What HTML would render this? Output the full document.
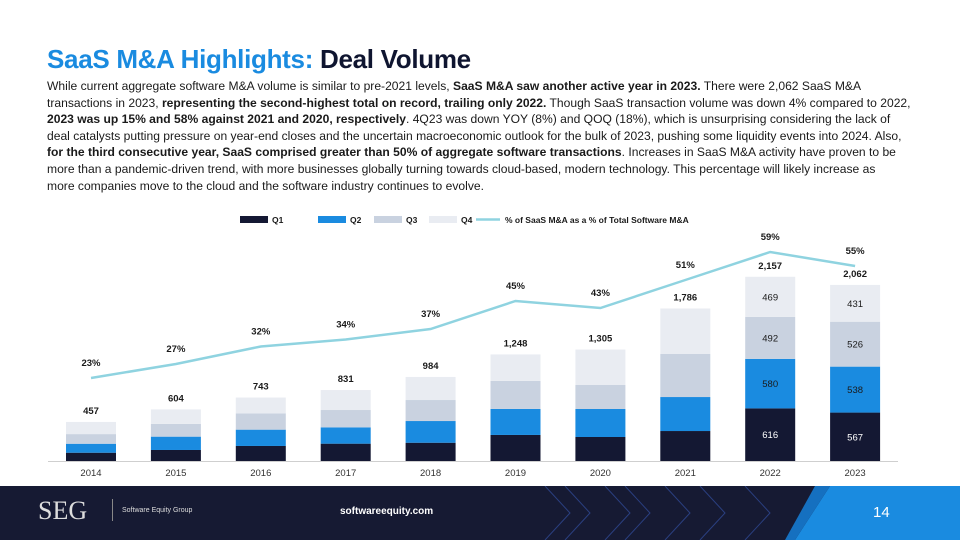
<!DOCTYPE html>
<html><head><meta charset="utf-8"><style>
body{margin:0;width:960px;height:540px;overflow:hidden;background:#fff;font-family:"Liberation Sans",Arial,sans-serif;position:relative}
#title{position:absolute;left:47px;top:44px;font-size:26px;font-weight:bold;color:#0f1530;white-space:nowrap;letter-spacing:-0.3px}
#title span{color:#1a8be0}
#body{position:absolute;left:47px;top:78px;font-size:12.1px;line-height:16.6px;color:#1a1a1a;white-space:nowrap}
#footer{position:absolute;left:0;top:486px;width:960px;height:54px;background:#161a33}
</style></head><body>
<div id="title"><span>SaaS M&amp;A Highlights:</span> Deal Volume</div>
<div id="body">
While current aggregate software M&amp;A volume is similar to pre-2021 levels, <b>SaaS M&amp;A saw another active year in 2023.</b> There were 2,062 SaaS M&amp;A<br>
transactions in 2023, <b>representing the second-highest total on record, trailing only 2022.</b> Though SaaS transaction volume was down 4% compared to 2022,<br>
<b>2023 was up 15% and 58% against 2021 and 2020, respectively</b>. 4Q23 was down YOY (8%) and QOQ (18%), which is unsurprising considering the lack of<br>
deal catalysts putting pressure on year-end closes and the uncertain macroeconomic outlook for the bulk of 2023, pushing some liquidity events into 2024. Also,<br>
<b>for the third consecutive year, SaaS comprised greater than 50% of aggregate software transactions</b>. Increases in SaaS M&amp;A activity have proven to be<br>
more than a pandemic-driven trend, with more businesses globally turning towards cloud-based, modern technology. This percentage will likely increase as<br>
more companies move to the cloud and the software industry continues to evolve.
</div>
<svg id="chart" width="960" height="540" style="position:absolute;left:0;top:0"></svg>
<div id="footer">
<svg width="960" height="54" style="position:absolute;left:0;top:0">
<g stroke="#2a3f80" stroke-width="1" fill="none">
<polyline points="545,0 570,27 545,54"/><polyline points="565,0 590,27 565,54"/>
<polyline points="605,0 630,27 605,54"/><polyline points="625,0 650,27 625,54"/>
<polyline points="665,0 690,27 665,54"/><polyline points="700,0 725,27 700,54"/>
<polyline points="745,0 770,27 745,54"/>
</g>
<polygon points="830,0 960,0 960,54 795,54" fill="#1a8be0"/>
<polygon points="815,0 830,0 795,54 785,54" fill="#1570c0"/>
</svg>
<div style="position:absolute;left:38px;top:10px;font-family:'Liberation Serif',serif;font-size:26px;color:#ddd">SEG</div>
<div style="position:absolute;left:112px;top:13px;width:1px;height:22px;background:#888"></div>
<div style="position:absolute;left:122px;top:21px;font-size:7px;color:#ddd">Software Equity Group</div>
<div style="position:absolute;left:340px;top:20px;font-size:10px;font-weight:bold;color:#fff">softwareequity.com</div>
<div style="position:absolute;left:873px;top:18px;font-size:15px;color:#fff">14</div>
</div>
<script>
const years=["2014","2015","2016","2017","2018","2019","2020","2021","2022","2023"];
const q1=[97,129,176,203,214,305,281,351,616,567];
const q2=[105,156,191,191,254,305,328,398,580,538];
const q3=[113,149,191,203,246,328,281,504,492,526];
const q4=[142,170,185,234,270,310,415,533,469,431];
const totals=[457,604,743,831,984,1248,1305,1786,2157,2062];
const pct=[23,27,32,34,37,45,43,51,59,55];
const svg=document.getElementById('chart');const NS='http://www.w3.org/2000/svg';
const base=461,scale=0.0854;
const xC=i=>91+i*84.9;
const yV=v=>base-v*scale;
const yP=p=>458.5-3.5*p;
function mk(t,a,txt){const e=document.createElementNS(NS,t);for(const k in a)e.setAttribute(k,a[k]);if(txt!=null)e.textContent=txt;svg.appendChild(e);return e;}
const cols=["#141833","#1a8be0","#c9d2e0","#e9ecf2"];
const series=[q1,q2,q3,q4];
const ax=mk('line',{x1:48,x2:898,y1:base+0.5,y2:base+0.5,stroke:'#cfcfcf','stroke-width':1});


years.forEach((y,i)=>{
  let acc=0;
  series.forEach((s,k)=>{
    const r=mk('rect',{x:xC(i)-25,y:yV(acc+s[i]),width:50,height:s[i]*scale,fill:cols[k]});
    
    
    if(i>=8){const t=mk('text',{x:xC(i),y:yV(acc+s[i]/2)+3.5,'text-anchor':'middle','font-size':9.5,fill:k==0?'#fff':'#1a1a1a'},s[i]);
      
      }
    acc+=s[i];
  });
  const tl=mk('text',{x:xC(i),y:yV(totals[i])-8,'text-anchor':'middle','font-size':9.5,'font-weight':'bold',fill:'#1a1a1a'},totals[i].toLocaleString('en-US'));
  
  
  const xl=mk('text',{x:xC(i),y:476,'text-anchor':'middle','font-size':9.5,fill:'#333'},y);
  
  
  const pl=mk('text',{x:xC(i),y:yP(pct[i])-12,'text-anchor':'middle','font-size':9.5,'font-weight':'bold',fill:'#1a1a1a'},pct[i]+'%');
  
  
});
const ln=mk('polyline',{points:pct.map((p,i)=>xC(i)+','+yP(p)).join(' '),fill:'none',stroke:'#8fd3e0','stroke-width':2.5});


const leg=[["Q1",cols[0],240],["Q2",cols[1],318],["Q3",cols[2],374],["Q4",cols[3],429]];
leg.forEach(l=>{
  const r=mk('rect',{x:l[2],y:216,width:28,height:7,fill:l[1]});
  
  
  const t=mk('text',{x:l[2]+32,y:223,'font-size':8.5,'font-weight':'bold',fill:'#1a1a1a'},l[0]);
  
  
});
const ll=mk('line',{x1:476,x2:500,y1:219.5,y2:219.5,stroke:'#8fd3e0','stroke-width':2.5});


const lt=mk('text',{x:505,y:223,'font-size':8.5,'font-weight':'bold',fill:'#1a1a1a'},'% of SaaS M&A as a % of Total Software M&A');


</script>
</body></html>
